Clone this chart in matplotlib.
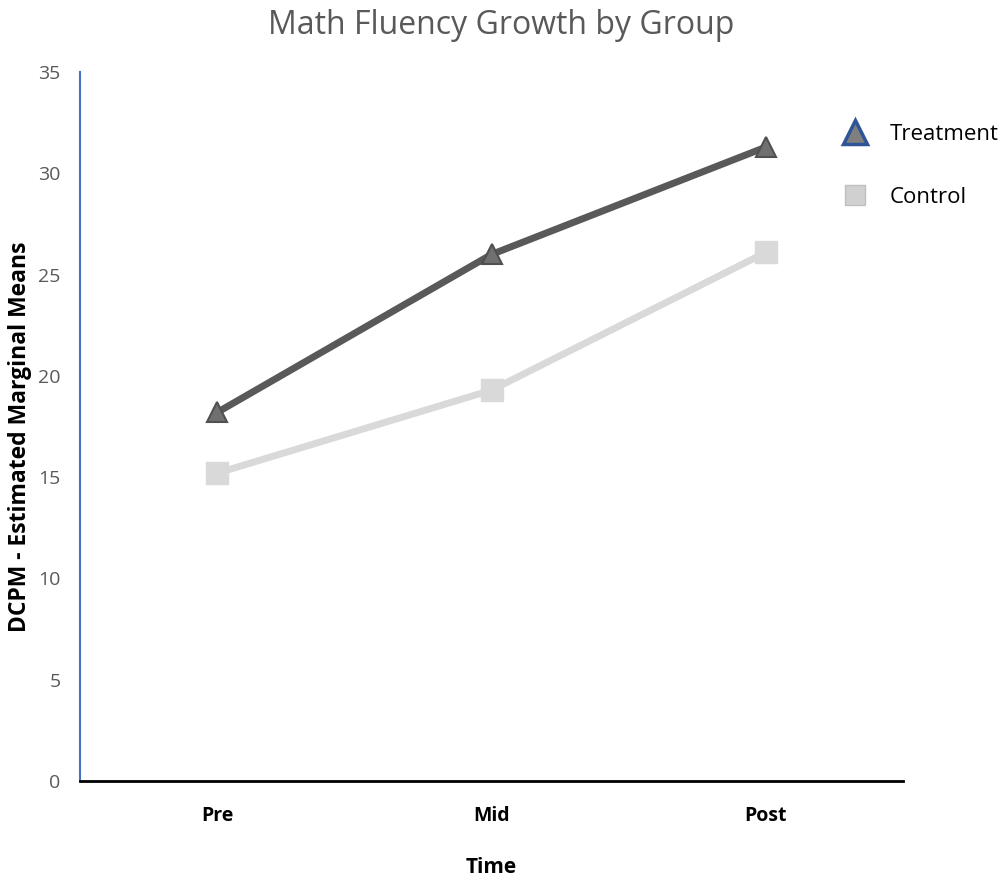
import matplotlib
matplotlib.use("Agg")
import matplotlib.pyplot as plt
from matplotlib.lines import Line2D

categories = ["Pre", "Mid", "Post"]
treatment = [18.2, 26.0, 31.3]
control = [15.2, 19.3, 26.1]
y_ticks = [0, 5, 10, 15, 20, 25, 30, 35]

plt.rcParams['font.family'] = ['Open Sans', 'DejaVu Sans']

fig = plt.figure(figsize=(10.03, 8.8), dpi=100)
ax = fig.add_axes([0.0798, 0.1125, 0.8205, 0.8055])

x = list(range(len(categories)))
ax.plot(x, control, color="#D9D9D9", lw=5, marker="s", ms=16,
        mfc="#D9D9D9", mec="#D9D9D9", zorder=2)
ax.plot(x, treatment, color="#595959", lw=5, marker="^", ms=15,
        mfc="#707070", mec="#505050", mew=1.5, zorder=3)

ax.set_xlim(-0.5, 2.5)
ax.set_ylim(0, 35)
ax.set_yticks(y_ticks)
ax.set_xticks(x)
ax.set_xticklabels(categories, fontsize=14, fontweight="bold", color="black")
ax.tick_params(axis="y", length=0, labelsize=14, labelcolor="#595959", pad=14)
ax.tick_params(axis="x", length=0, pad=18)

for s in ["top", "right"]:
    ax.spines[s].set_visible(False)
ax.spines["left"].set_color("#4472C4")
ax.spines["left"].set_linewidth(1.5)
ax.spines["bottom"].set_color("black")
ax.spines["bottom"].set_linewidth(2)

ax.set_xlabel("Time", fontsize=15, fontweight="bold", labelpad=22)
ax.set_ylabel("DCPM - Estimated Marginal Means", fontsize=16.5, fontweight="bold")
ax.yaxis.set_label_coords(-0.058, 0.485)
fig.suptitle("Math Fluency Growth by Group", fontsize=23, color="#595959", y=0.99)

handles = [
    Line2D([], [], ls="none", marker="^", ms=17, mfc="#7F7F7F", mec="#2F5597", mew=2.5),
    Line2D([], [], ls="none", marker="s", ms=15, mfc="#D0D0D0", mec="#BFBFBF", mew=1),
]
fig.legend(handles, ["Treatment", "Control"], loc="upper left",
           bbox_to_anchor=(0.818, 0.882), frameon=False, fontsize=16,
           labelspacing=1.9, handletextpad=0.9, handlelength=1.3)

fig.savefig("out.png", dpi=100)
